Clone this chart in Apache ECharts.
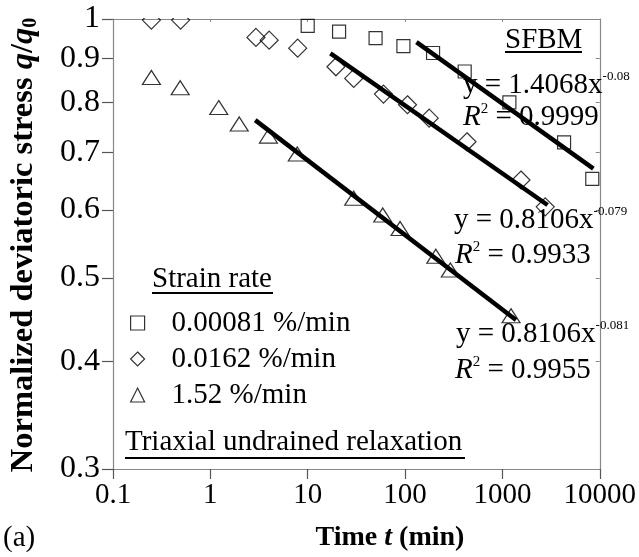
<!DOCTYPE html>
<html><head><meta charset="utf-8">
<script src="https://cdn.jsdelivr.net/npm/echarts@6/dist/echarts.min.js"></script>
<style>html,body{margin:0;padding:0;background:#fff}#c{width:639px;height:557px}</style>
</head><body><div id="c"></div>
<script>
// ---- data ----
const xTicks = [0.1, 1, 10, 100, 1000, 10000];
const yTicks = [0.3, 0.4, 0.5, 0.6, 0.7, 0.8, 0.9, 1];
const seriesNames = ['0.00081 %/min', '0.0162 %/min', '1.52 %/min'];

const squaresT = [10.0, 21.0, 49.8, 96.2, 194, 410, 1180, 4300, 8380];
const squaresV = [0.982, 0.967, 0.950, 0.930, 0.913, 0.869, 0.800, 0.719, 0.652];

const diamondsT = [0.248, 0.495, 2.94, 4.02, 7.89, 19.5, 29.7, 60, 106, 177, 433, 1552, 2754];
const diamondsV = [0.997, 0.997, 0.952, 0.945, 0.925, 0.880, 0.853, 0.818, 0.795, 0.767, 0.720, 0.650, 0.605];

const trianglesT = [0.248, 0.49, 1.22, 1.98, 3.95, 7.82, 29.7, 59, 88.9, 207, 292, 1227];
const trianglesV = [0.855, 0.832, 0.789, 0.755, 0.731, 0.697, 0.619, 0.592, 0.571, 0.530, 0.511, 0.452];

const fit1T = [131, 8600],  fit1V = [0.94, 0.67];
const fit2T = [17.1, 2910], fit2V = [0.912, 0.608];
const fit3T = [2.89, 1380], fit3V = [0.763, 0.447];

const eq1 = ['y = 1.4068x', '-0.08', '0.9999'];
const eq2 = ['y = 0.8106x', '-0.079', '0.9933'];
const eq3 = ['y = 0.8106x', '-0.081', '0.9955'];

// ---- chart ----
const F = 'Liberation Serif';
const zip = (a, b) => a.map((v, i) => [v, b[i]]);
const fmt = v => (v >= 1 ? String(Math.round(v)) : String(+v.toFixed(2)));

const chart = echarts.init(document.getElementById('c'), null, {renderer: 'canvas'});

const axisLineGrey = {show: true, lineStyle: {color: '#888', width: 1.2}};
const markerStyle = {color: 'rgba(255,255,255,0)', borderColor: '#000', borderWidth: 1.2};

const richEq = {
  m: {fontFamily: F, fontSize: 29, color: '#000', lineHeight: 30},
  sup: {fontFamily: F, fontSize: 13, color: '#000', lineHeight: 13, verticalAlign: 'top'},
  i: {fontFamily: F, fontSize: 29, fontStyle: 'italic', color: '#000', lineHeight: 30},
  sup2: {fontFamily: F, fontSize: 15, color: '#000', lineHeight: 22, verticalAlign: 'top'}
};
function eqText(x, top, e) {
  return {type: 'text', x: x, y: top, z: 50,
    style: {text: '{m|' + e[0] + '}{sup|' + e[1] + '}', rich: richEq, textVerticalAlign: 'top', textAlign: 'left'}};
}
function r2Text(x, top, e) {
  return {type: 'text', x: x, y: top, z: 50,
    style: {text: '{i|R}{sup2|2}{m| = ' + e[2] + '}', rich: richEq, textVerticalAlign: 'top', textAlign: 'left'}};
}
function plainText(x, top, s) {
  return {type: 'text', x: x, y: top, z: 50,
    style: {text: s, fontFamily: F, fontSize: 29, fill: '#000', lineHeight: 30, textVerticalAlign: 'top', textAlign: 'left'}};
}
function uline(x1, x2, y) {
  return {type: 'line', z: 50, shape: {x1: x1, y1: y, x2: x2, y2: y}, style: {stroke: '#000', lineWidth: 2}};
}

const option = {
  backgroundColor: '#fff',
  animation: false,
  grid: {left: 113, right: 37, top: 19, bottom: 88, show: false},
  xAxis: [{
    type: 'log', logBase: 10, min: 0.1, max: 10000, position: 'bottom',
    axisLine: axisLineGrey,
    axisTick: {show: true, inside: false, length: 10, customValues: xTicks, lineStyle: {color: '#555', width: 1.2}},
    minorTick: {show: false},
    splitLine: {show: false},
    axisLabel: {customValues: xTicks, formatter: fmt, fontFamily: F, fontSize: 29, color: '#000', margin: 12}
  }, {
    type: 'log', logBase: 10, min: 0.1, max: 10000, position: 'top',
    axisLine: axisLineGrey,
    axisTick: {show: true, inside: true, length: 3, customValues: xTicks, lineStyle: {color: '#888'}},
    splitLine: {show: false}, axisLabel: {show: false}
  }],
  yAxis: [{
    type: 'log', logBase: 10, min: 0.3, max: 1, position: 'left',
    axisLine: axisLineGrey,
    axisTick: {show: true, inside: false, length: 11, customValues: yTicks, lineStyle: {color: '#555', width: 1.2}},
    splitLine: {show: false},
    axisLabel: {customValues: yTicks, formatter: fmt, fontFamily: F, fontSize: 32, color: '#000', margin: 13}
  }, {
    type: 'log', logBase: 10, min: 0.3, max: 1, position: 'right',
    axisLine: axisLineGrey,
    axisTick: {show: true, inside: true, length: 4, customValues: yTicks, lineStyle: {color: '#888'}},
    splitLine: {show: false}, axisLabel: {show: false}
  }],
  legend: {
    data: [
      {name: seriesNames[0], icon: 'rect', itemStyle: markerStyle},
      {name: seriesNames[1], icon: 'diamond', itemStyle: markerStyle},
      {name: seriesNames[2], icon: 'triangle', itemStyle: markerStyle}
    ],
    orient: 'vertical', left: 125, top: 303,
    itemWidth: 14, itemHeight: 14, itemGap: 6,
    textStyle: {fontFamily: F, fontSize: 29, color: '#000', lineHeight: 30, padding: [0, 0, 0, 22]},
    selectedMode: false
  },
  series: [
    {name: seriesNames[0], type: 'scatter', symbol: 'rect', symbolSize: 13,
     itemStyle: markerStyle, data: zip(squaresT, squaresV), z: 3},
    {name: seriesNames[1], type: 'scatter', symbol: 'diamond', symbolSize: [18, 18],
     itemStyle: markerStyle, data: zip(diamondsT, diamondsV), z: 3},
    {name: seriesNames[2], type: 'scatter', symbol: 'triangle', symbolSize: [18, 14],
     itemStyle: markerStyle, data: zip(trianglesT, trianglesV), z: 3},
    {name: 'fit1', type: 'line', symbol: 'none', data: zip(fit1T, fit1V), lineStyle: {color: '#000', width: 4.5}, z: 4},
    {name: 'fit2', type: 'line', symbol: 'none', data: zip(fit2T, fit2V), lineStyle: {color: '#000', width: 4.5}, z: 4},
    {name: 'fit3', type: 'line', symbol: 'none', data: zip(fit3T, fit3V), lineStyle: {color: '#000', width: 4.5}, z: 4}
  ],
  graphic: [
    // mask above plot area (clip markers at top border)
    {type: 'rect', z: 40, shape: {x: 114, y: 0, width: 487, height: 18}, style: {fill: '#fff'}},
    plainText(505, 25, 'SFBM'), uline(505, 582, 52),
    eqText(463, 70, eq1), r2Text(463, 102, eq1),
    eqText(454, 205, eq2), r2Text(455, 240, eq2),
    eqText(456, 319, eq3), r2Text(455, 355, eq3),
    plainText(152, 264, 'Strain rate'), uline(152, 273, 293),
    plainText(125, 427, 'Triaxial undrained relaxation'), uline(125, 465, 458),
    plainText(3, 523, '(a)'),
    {type: 'text', x: 390, y: 523, z: 50,
     style: {text: '{b|Time }{bi|t}{b| (min)}', textAlign: 'center', textVerticalAlign: 'top',
       rich: {b: {fontFamily: F, fontSize: 28, fontWeight: 'bold', color: '#000', lineHeight: 30},
              bi: {fontFamily: F, fontSize: 28, fontWeight: 'bold', fontStyle: 'italic', color: '#000', lineHeight: 30}}}},
    {type: 'text', x: 24, y: 245, rotation: Math.PI / 2, z: 50,
     style: {text: '{b|Normalized deviatoric stress }{bi|q}{b|/}{bi|q}{sub|0}', textAlign: 'center', textVerticalAlign: 'middle',
       rich: {b: {fontFamily: F, fontSize: 32.5, fontWeight: 'bold', color: '#000', lineHeight: 34},
              bi: {fontFamily: F, fontSize: 32.5, fontWeight: 'bold', fontStyle: 'italic', color: '#000', lineHeight: 34},
              sub: {fontFamily: F, fontSize: 20, fontWeight: 'bold', color: '#000', lineHeight: 12, verticalAlign: 'bottom'}}}}
  ]
};
chart.setOption(option);
</script>
</body></html>
